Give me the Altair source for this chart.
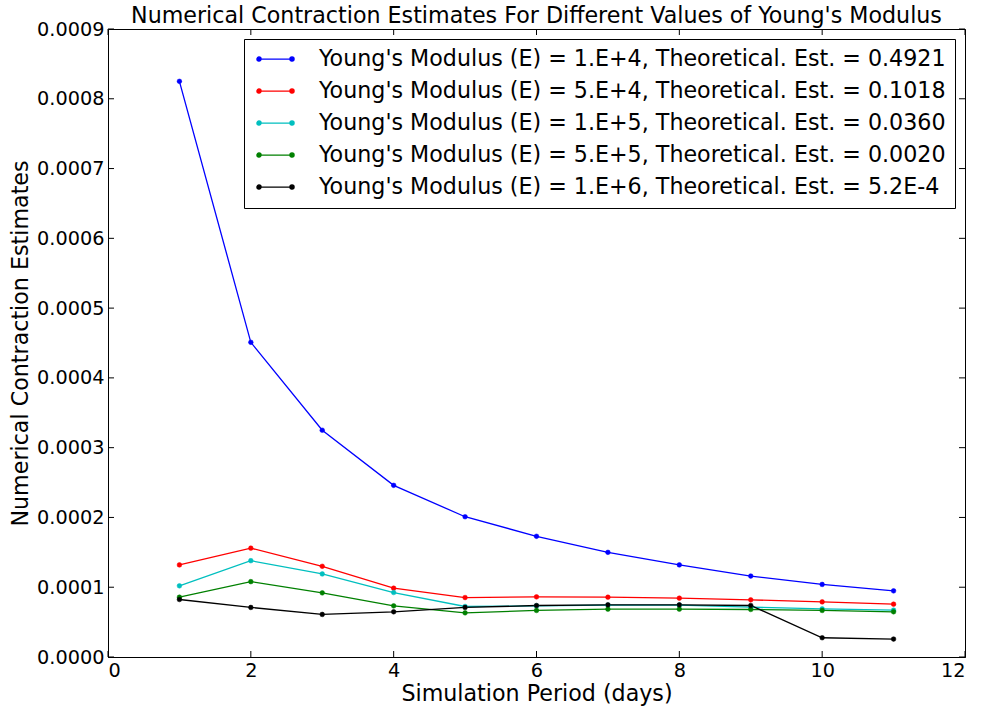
import altair as alt
import pandas as pd

# ---------------- data ----------------
days = [1, 2, 3, 4, 5, 6, 7, 8, 9, 10, 11]

series_names = [
    "Young's Modulus (E) = 1.E+4, Theoretical. Est. = 0.4921",
    "Young's Modulus (E) = 5.E+4, Theoretical. Est. = 0.1018",
    "Young's Modulus (E) = 1.E+5, Theoretical. Est. = 0.0360",
    "Young's Modulus (E) = 5.E+5, Theoretical. Est. = 0.0020",
    "Young's Modulus (E) = 1.E+6, Theoretical. Est. = 5.2E-4",
]
series_colors = ["#0000ff", "#ff0000", "#00bfbf", "#008000", "#000000"]

e_1e4 = [0.000825, 0.000451, 0.000325, 0.000246, 0.000201, 0.000173,
         0.000150, 0.000132, 0.000116, 0.000104, 0.0000948]
e_5e4 = [0.000132, 0.000156, 0.000130, 0.0000986, 0.0000852, 0.0000862,
         0.0000857, 0.0000843, 0.0000819, 0.0000790, 0.0000757]
e_1e5 = [0.000102, 0.000138, 0.000119, 0.0000924, 0.0000724, 0.0000733,
         0.0000743, 0.0000743, 0.0000714, 0.0000690, 0.0000671]
e_5e5 = [0.0000857, 0.000108, 0.0000919, 0.0000733, 0.0000633, 0.0000667,
         0.0000686, 0.0000686, 0.0000681, 0.0000667, 0.0000648]
e_1e6 = [0.0000824, 0.0000710, 0.0000610, 0.0000648, 0.0000710, 0.0000738,
         0.0000748, 0.0000748, 0.0000738, 0.0000276, 0.0000257]

x_ticks = [0, 2, 4, 6, 8, 10, 12]
y_ticks = [0.0, 0.0001, 0.0002, 0.0003, 0.0004, 0.0005, 0.0006, 0.0007, 0.0008, 0.0009]

title_text = "Numerical Contraction Estimates For Different Values of Young's Modulus"
x_title = "Simulation Period (days)"
y_title = "Numerical Contraction Estimates"

# ---------------- tables ----------------
rows = []
for name, vals in zip(series_names, [e_1e4, e_5e4, e_1e5, e_5e5, e_1e6]):
    for d, v in zip(days, vals):
        rows.append({"day": d, "value": v, "series": name})
df = pd.DataFrame(rows)
xt = pd.DataFrame({"day": x_ticks})
yt = pd.DataFrame({"value": y_ticks})

# ---------------- styling ----------------
W, H = 857, 628
FONT = "DejaVu Sans"
FS_BIG = 22.2
FS_TICK = 19.3
TICK = 6

xscale = alt.Scale(domain=[0, 12], nice=False, zero=False)
yscale = alt.Scale(domain=[0, 0.0009], nice=False, zero=False)
cscale = alt.Scale(domain=series_names, range=series_colors)

x_axis = alt.Axis(values=x_ticks, format="d", title=x_title, tickSize=0,
                  labelPadding=4, titlePadding=2, grid=False)
y_axis = alt.Axis(values=y_ticks, format=".4f", title=y_title, tickSize=0,
                  labelPadding=4, titlePadding=4, grid=False)

# legend glyph: a short line with a dot at each end (unit: sqrt(symbolSize)/2 = 10 px)
sym_path = ("M-0.51,0L2.79,0"
            "M-0.72,0a0.21,0.21 0 1,0 0.42,0a0.21,0.21 0 1,0 -0.42,0"
            "M2.58,0a0.21,0.21 0 1,0 0.42,0a0.21,0.21 0 1,0 -0.42,0")

legend = alt.Legend(
    title=None, orient="top-right", offset=10,
    symbolType=sym_path, symbolSize=400, symbolStrokeWidth=1.3,
    labelFont=FONT, labelFontSize=FS_BIG, labelColor="black", labelLimit=0,
    labelOffset=43.8, rowPadding=9.0,
    strokeColor="black", fillColor="white", padding=9,
)

lines = alt.Chart(df).mark_line(strokeWidth=1.3).encode(
    x=alt.X("day:Q", scale=xscale, axis=x_axis),
    y=alt.Y("value:Q", scale=yscale, axis=y_axis),
    stroke=alt.Stroke("series:N", scale=cscale, legend=legend),
)
points = alt.Chart(df).mark_point(filled=True, size=22, opacity=1, strokeWidth=0.5).encode(
    x=alt.X("day:Q", scale=xscale, axis=x_axis),
    y=alt.Y("value:Q", scale=yscale, axis=y_axis),
    fill=alt.Fill("series:N", scale=cscale, legend=legend),
    stroke=alt.Stroke("series:N", scale=cscale, legend=legend),
)

tick_bottom = alt.Chart(xt).mark_rule(color="black", strokeWidth=1).encode(
    x=alt.X("day:Q", scale=xscale, axis=x_axis), y=alt.value(H), y2=alt.value(H - TICK))
tick_top = alt.Chart(xt).mark_rule(color="black", strokeWidth=1).encode(
    x=alt.X("day:Q", scale=xscale, axis=x_axis), y=alt.value(0), y2=alt.value(TICK))
tick_left = alt.Chart(yt).mark_rule(color="black", strokeWidth=1).encode(
    y=alt.Y("value:Q", scale=yscale, axis=y_axis), x=alt.value(0), x2=alt.value(TICK))
tick_right = alt.Chart(yt).mark_rule(color="black", strokeWidth=1).encode(
    y=alt.Y("value:Q", scale=yscale, axis=y_axis), x=alt.value(W), x2=alt.value(W - TICK))

chart = alt.layer(
    lines, points, tick_bottom, tick_top, tick_left, tick_right
).properties(
    width=W, height=H,
    title=alt.TitleParams(title_text, font=FONT, fontSize=FS_BIG, fontWeight="normal",
                          color="black", anchor="middle", offset=-7.5),
    autosize=alt.AutoSizeParams(type="none"),
    padding={"left": 108, "top": 29, "right": 19, "bottom": 54},
).configure(
    background="white",
).configure_view(
    stroke="black", strokeWidth=1,
).configure_axis(
    labelFont=FONT, labelFontSize=FS_TICK, labelColor="black",
    titleFont=FONT, titleFontSize=FS_BIG, titleColor="black", titleFontWeight="normal",
    domainColor="black", domainWidth=1,
)

chart.save("out.html", embed_options={"renderer": "svg", "actions": False})
